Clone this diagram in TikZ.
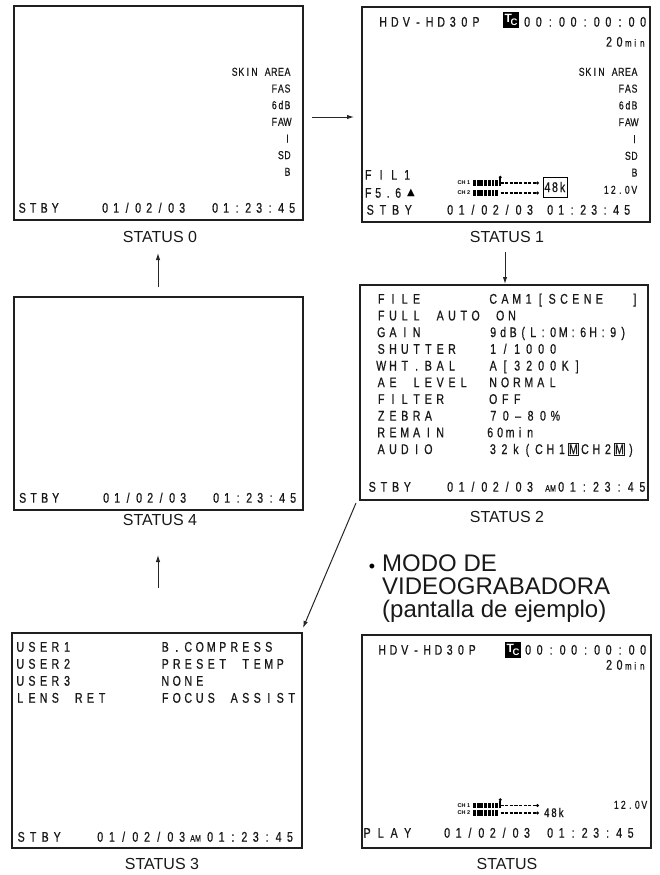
\documentclass[tikz,border=0pt]{standalone}
\usepackage{fontspec}
\setmainfont{Liberation Sans}
\newfontfamily\osdf[FakeStretch=0.76,FakeBold=0.6]{Liberation Sans}
\newfontfamily\symf{DejaVu Sans}
\usetikzlibrary{arrows.meta}
\ExplSyntaxOn
\NewDocumentCommand\osd{O{11pt}m}{%
  \str_map_inline:nn{#2}{\str_if_eq:nnTF{##1}{_}{\hspace*{#1}}{\makebox[#1][c]{##1}}}}
\ExplSyntaxOff
\newcommand\osdM{\makebox[11.5pt][c]{\fboxsep=0.6pt\fboxrule=0.6pt\fbox{M}}}
\newcommand\chmeter[4]{%
  \node[chlab] (#1c1) at (464,#2) {CH 1};
  \node[chlab] (#1c2) at (464,#3) {CH 2};
  \foreach \yy in {#2,#3}{
    \foreach \i in {0,...,6}{\fill[black] (473+\i*3.7,\yy-#4) rectangle ++(2.9,2*#4);}
    \draw[dash pattern=on 3.2pt off 1.4pt, line width=1.5pt, black] (500.5,\yy) -- (536,\yy);
    \fill[black] (537.5,\yy) circle (1.6pt);
  }
  \fill[black] (499.3,#2+#4) rectangle (501.2,#2-5);
  \fill[black] (500.25,#2-5.8) circle (1.6pt);
}
\begin{document}
\begin{tikzpicture}[x=1pt,y=-1pt,
  scr/.style={draw=black!88, line width=2.2pt, anchor=north west, inner sep=0, outer sep=0},
  lab/.style={font=\fontsize{16}{16}\selectfont, inner sep=0, text=black!90},
  osd/.style={inner sep=0, anchor=base west, font=\osdf\fontsize{14}{14}\selectfont, text=black!90},
  osdr/.style={osd, anchor=base east},
  sml/.style={inner sep=0, anchor=base east, font=\osdf\fontsize{11.5}{11.5}\selectfont, text=black!90},
  am/.style={inner sep=0, anchor=base west, font=\osdf\fontsize{9.5}{9.5}\selectfont, text=black!90},
  chlab/.style={inner sep=0, font=\bfseries\fontsize{5.5}{5.5}\selectfont, text=black},
  tcbox/.style={fill=black, text=white, inner sep=0, minimum width=16pt, minimum height=16pt, font=\bfseries},
  arr/.style={draw=black!85, line width=1pt, -{Latex[length=7pt,width=4.5pt]}}]
\fill[white] (0,0) rectangle (660,875);
\useasboundingbox (0,0) rectangle (660,875);

% screens
\node[scr, minimum width=289pt, minimum height=214pt] (b0) at (14,6) {};
\node[scr, minimum width=288pt, minimum height=215pt] (b1) at (362,7) {};
\node[scr, minimum width=288pt, minimum height=215pt] (b2) at (360,285) {};
\node[scr, minimum width=289pt, minimum height=213pt] (b4) at (14,297) {};
\node[scr, minimum width=290pt, minimum height=215pt] (b3) at (12,633) {};
\node[scr, minimum width=289pt, minimum height=213pt] (b5) at (362,635) {};

% labels
\node[lab] (l0) at (160,237) {STATUS 0};
\node[lab] (l1) at (507,237) {STATUS 1};
\node[lab] (l2) at (507,516.5) {STATUS 2};
\node[lab] (l4) at (160,520) {STATUS 4};
\node[lab] (l3) at (162,863.5) {STATUS 3};
\node[lab] (l5) at (507,863.5) {STATUS};

% arrows
\coordinate (a01s) at (312,117); \coordinate (a01e) at (354,117);
\coordinate (a12s) at (505,252); \coordinate (a12e) at (505,284);
\coordinate (a23s) at (356,503); \coordinate (a23e) at (303,628);
\coordinate (a34s) at (158,588); \coordinate (a34e) at (158,555);
\coordinate (a40s) at (158,287); \coordinate (a40e) at (158,253);
\draw[arr] (a01s) -- (a01e);
\draw[arr] (a12s) -- (a12e);
\draw[arr] (a23s) -- (a23e);
\draw[arr] (a34s) -- (a34e);
\draw[arr] (a40s) -- (a40e);

% mode text
\node[inner sep=0, anchor=base, font=\fontsize{18}{18}\selectfont] (bul) at (372,572) {•};
\node[inner sep=0, anchor=north west, align=left, font=\fontsize{24}{23}\selectfont, text=black!90] (modo) at (382,555) {MODO DE\\VIDEOGRABADORA\\(pantalla de ejemplo)};

% STATUS 0
\node[sml] (s0a) at (291,75.8) {\osd[6.6pt]{SKIN_AREA}};
\node[sml] (s0b) at (291,92.5) {\osd[6.6pt]{FAS}};
\node[sml] (s0c) at (291,109.1) {\osd[6.6pt]{6dB}};
\node[sml] (s0d) at (291,125.8) {\osd[6.6pt]{FAW}};
\node[sml] (s0e) at (291,142.5) {\osd[6.6pt]{I}};
\node[sml] (s0f) at (291,159.1) {\osd[6.6pt]{SD}};
\node[sml] (s0g) at (291,175.8) {\osd[6.6pt]{B}};
\node[osd] (s0h) at (16.5,212.7) {\osd[11pt]{STBY}};
\node[osd] (s0i) at (99.5,212.7) {\osd[11pt]{01/02/03__01:23:45}};

% STATUS 4
\node[osd] (s4a) at (17,502.7) {\osd[11pt]{STBY}};
\node[osd] (s4b) at (100.5,502.7) {\osd[11pt]{01/02/03__01:23:45}};

% STATUS 1
\node[osd] (s1a) at (377.2,26.7) {\osd[11.6pt]{HDV-HD30P}};
\node[tcbox] (tc1) at (511,20) {\fontsize{12}{12}\selectfont T\kern-1.2pt\raisebox{-3pt}{\fontsize{9.5}{9.5}\selectfont C}};
\node[osd] (s1b) at (521.2,26.7) {\osd[11.6pt]{00:00:00:00}};
\node[osdr] (s1c) at (646,46.7) {\osd[10.5pt]{20}{\fontsize{10.5}{10.5}\selectfont\osd[7pt]{min}}};
\node[sml] (s1d) at (638,75.8) {\osd[6.6pt]{SKIN_AREA}};
\node[sml] (s1e) at (638,92.6) {\osd[6.6pt]{FAS}};
\node[sml] (s1f) at (638,109.4) {\osd[6.6pt]{6dB}};
\node[sml] (s1g) at (638,126.2) {\osd[6.6pt]{FAW}};
\node[sml] (s1h) at (638,143) {\osd[6.6pt]{I}};
\node[sml] (s1i) at (638,159.8) {\osd[6.6pt]{SD}};
\node[sml] (s1j) at (638,176.6) {\osd[6.6pt]{B}};
\node[sml] (s1k) at (638,193.8) {\osd[7pt]{12.0V}};
\node[osd] (s1l) at (361.5,179.7) {\osd[13pt]{FIL1}};
\node[osd] (s1m) at (363,197.7) {\osd[10pt]{F5.6}};
\node[inner sep=0, font=\symf\fontsize{10}{10}\selectfont, text=black] (s1n) at (411,193) {▲};
\node[osd] (s1o) at (363.7,214.7) {\osd[12.7pt]{STBY}};
\node[osd] (s1p) at (444.3,214.7) {\osd[11.4pt]{01/02/03}};
\node[osd] (s1q) at (544.5,214.7) {\osd[11pt]{01:23:45}};
\chmeter{m1}{183}{193}{3}
\node[draw=black, line width=1pt, inner sep=0, minimum width=24pt, minimum height=20pt, font=\osdf\fontsize{14}{14}\selectfont, text=black!90] (k48a) at (555,187) {\osd[7.6pt]{48k}};

% STATUS 2
\node[osd] (s2a) at (375.1,303.7) {\osd[11.8pt]{FILE}};
\node[osd] (s2b) at (375.1,320.4) {\osd[11.8pt]{FULL_AUTO}};
\node[osd] (s2c) at (375.1,337.1) {\osd[11.8pt]{GAIN}};
\node[osd] (s2d) at (375.1,353.8) {\osd[11.8pt]{SHUTTER}};
\node[osd] (s2e) at (375.1,370.5) {\osd[11.8pt]{WHT.BAL}};
\node[osd] (s2f) at (375.1,387.2) {\osd[11.8pt]{AE_LEVEL}};
\node[osd] (s2g) at (375.1,403.9) {\osd[11.8pt]{FILTER}};
\node[osd] (s2h) at (375.1,420.6) {\osd[11.8pt]{ZEBRA}};
\node[osd] (s2i) at (375.1,437.3) {\osd[11.8pt]{REMAIN}};
\node[osd] (s2j) at (375.1,454.0) {\osd[11.8pt]{AUDIO}};
\node[osd] (s2k) at (487.1,303.7) {\osd[11.8pt]{CAM1[SCENE__]}};
\node[osd] (s2l) at (494.1,320.4) {\osd[11.8pt]{ON}};
\node[osd] (s2m) at (488,337.1) {\osd[10pt]{9dB(L:0M:6H:9)}};
\node[osd] (s2n) at (487,353.8) {\osd[12pt]{1/1000}};
\node[osd] (s2o) at (487,370.5) {\osd[12pt]{A[3200K]}};
\node[osd] (s2p) at (487,387.2) {\osd[11.9pt]{NORMAL}};
\node[osd] (s2q) at (487,403.9) {\osd[12pt]{OFF}};
\node[osd] (s2r) at (487,420.6) {\osd[12.4pt]{70–80}\makebox[12.4pt][c]{\%}};
\node[osd] (s2s) at (485,437.3) {\osd[10pt]{60min}};
\node[osd] (s2t) at (487,454.0) {\osd[11.5pt]{32k(CH1}\osdM\osd[11.5pt]{CH2}\osdM\osd[11.5pt]{)}};
\node[osd] (s2u) at (366.2,491.7) {\osd[11.7pt]{STBY}};
\node[osd] (s2v) at (444.3,491.7) {\osd[11.4pt]{01/02/03}};
\node[am] (s2w) at (545,491.7) {AM};
\node[osd] (s2x) at (555.2,491.7) {\osd[11.6pt]{01:23:45}};

% STATUS 3
\node[osd] (s3a) at (14.2,651.7) {\osd[11.7pt]{USER1}};
\node[osd] (s3b) at (14.2,668.7) {\osd[11.7pt]{USER2}};
\node[osd] (s3c) at (14.2,685.7) {\osd[11.7pt]{USER3}};
\node[osd] (s3d) at (14.2,702.7) {\osd[11.7pt]{LENS_RET}};
\node[osd] (s3e) at (159.3,651.7) {\osd[11.5pt]{B.COMPRESS}};
\node[osd] (s3f) at (159.3,668.7) {\osd[11.5pt]{PRESET_TEMP}};
\node[osd] (s3g) at (159.3,685.7) {\osd[11.5pt]{NONE}};
\node[osd] (s3h) at (159.3,702.7) {\osd[11.5pt]{FOCUS_ASSIST}};
\node[osd] (s3i) at (15,841.7) {\osd[12pt]{STBY}};
\node[osd] (s3j) at (94.2,841.7) {\osd[11.7pt]{01/02/03}};
\node[am] (s3k) at (190,841.7) {AM};
\node[osd] (s3l) at (204.3,841.7) {\osd[11.4pt]{01:23:45}};

% VCR STATUS
\node[osd] (s5a) at (376.4,654.7) {\osd[11.25pt]{HDV-HD30P}};
\node[tcbox] (tc5) at (513,650) {\fontsize{12}{12}\selectfont T\kern-1.2pt\raisebox{-3pt}{\fontsize{9.5}{9.5}\selectfont C}};
\node[osd] (s5b) at (522.25,654.7) {\osd[11.5pt]{00:00:00:00}};
\node[osdr] (s5c) at (646,669.7) {\osd[10.5pt]{20}{\fontsize{10.5}{10.5}\selectfont\osd[7pt]{min}}};
\chmeter{m5}{805.5}{813}{2.6}
\node[osd, font=\osdf\fontsize{12.5}{12.5}\selectfont] (s5d) at (543,817) {\osd[7.2pt]{48k}};
\node[sml] (s5e) at (648,808.8) {\osd[7pt]{12.0V}};
\node[osd] (s5f) at (360.2,837.7) {\osd[13.5pt]{PLAY}};
\node[osd] (s5g) at (441.3,837.7) {\osd[11.4pt]{01/02/03}};
\node[osd] (s5h) at (544.25,837.7) {\osd[11.5pt]{01:23:45}};
\end{tikzpicture}
\end{document}
